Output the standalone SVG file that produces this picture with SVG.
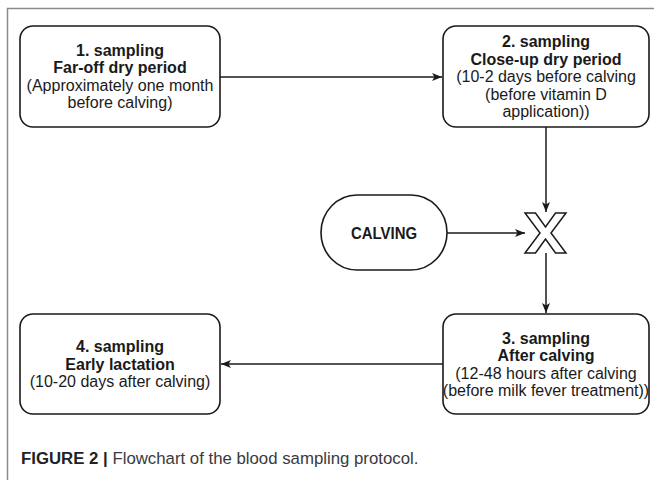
<svg xmlns="http://www.w3.org/2000/svg" width="654" height="480" viewBox="0 0 654 480">
  <style>
    .box { fill: #ffffff; stroke: #1a1a1a; stroke-width: 1.6; }
    .conn { fill: none; stroke: #1a1a1a; stroke-width: 1.5; }
    .t { font-family: "Liberation Sans", Arial, sans-serif; font-size: 16px; fill: #1a1a1a; text-anchor: middle; }
    .b { font-weight: bold; }
    .frame { fill: none; stroke: #8a8a8a; stroke-width: 1.5; }
    .cap { font-family: "Liberation Sans", Arial, sans-serif; font-size: 16.8px; fill: #3a3a3a; }
  </style>
  <defs>
    <marker id="arrow" markerWidth="11" markerHeight="9" refX="10" refY="4.5" orient="auto" markerUnits="userSpaceOnUse">
      <path d="M0,0.5 L10,4.5 L0,8.5 L2.5,4.5 Z" fill="#1a1a1a"/>
    </marker>
  </defs>
  <rect width="654" height="480" fill="#ffffff"/>
  <path class="frame" d="M7.5,480 L7.5,8.5 L654,8.5"/>

  <g id="connectors">
    <line class="conn" x1="220" y1="77" x2="442" y2="77" marker-end="url(#arrow)"/>
    <line class="conn" x1="546" y1="127" x2="546" y2="212" marker-end="url(#arrow)"/>
    <line class="conn" x1="447" y1="233" x2="525" y2="233" marker-end="url(#arrow)"/>
    <line class="conn" x1="546" y1="253" x2="546" y2="313" marker-end="url(#arrow)"/>
    <line class="conn" x1="443" y1="364" x2="221" y2="364" marker-end="url(#arrow)"/>
  </g>

  <g id="node1">
    <rect class="box" x="20" y="26" width="200" height="101" rx="13"/>
    <text class="t b" x="120" y="56">1. sampling</text>
    <text class="t b" x="120" y="73">Far-off dry period</text>
    <text class="t" x="120" y="91">(Approximately one month</text>
    <text class="t" x="120" y="108">before calving)</text>
  </g>

  <g id="node2">
    <rect class="box" x="443" y="26" width="206" height="101" rx="13"/>
    <text class="t b" x="546" y="47">2. sampling</text>
    <text class="t b" x="546" y="64.5">Close-up dry period</text>
    <text class="t" x="546" y="82">(10-2 days before calving</text>
    <text class="t" x="546" y="99.5">(before vitamin D</text>
    <text class="t" x="546" y="117">application))</text>
  </g>

  <g id="calving">
    <rect class="box" x="321" y="195" width="126" height="75" rx="36" ry="37.5"/>
    <text class="t b" x="384" y="239" style="font-size:16px" textLength="66" lengthAdjust="spacingAndGlyphs">CALVING</text>
  </g>

  <g id="junction">
    <polygon points="525,213 535.5,213 545.5,227 555.5,213 566,213 551,233 566,253 555.5,253 545.5,239 535.5,253 525,253 540,233" fill="#ffffff" stroke="#1a1a1a" stroke-width="1.5" stroke-linejoin="miter"/>
  </g>

  <g id="node3">
    <rect class="box" x="443" y="314" width="206" height="100" rx="13"/>
    <text class="t b" x="546" y="343.5">3. sampling</text>
    <text class="t b" x="546" y="361">After calving</text>
    <text class="t" x="546" y="378.5">(12-48 hours after calving</text>
    <text class="t" x="546" y="396">(before milk fever treatment))</text>
  </g>

  <g id="node4">
    <rect class="box" x="20" y="314" width="200" height="100" rx="13"/>
    <text class="t b" x="120" y="352">4. sampling</text>
    <text class="t b" x="120" y="369.5">Early lactation</text>
    <text class="t" x="120" y="387">(10-20 days after calving)</text>
  </g>

  <g id="caption">
    <text class="cap" x="21" y="464"><tspan font-weight="bold" fill="#222222">FIGURE 2 |</tspan> Flowchart of the blood sampling protocol.</text>
  </g>
</svg>
